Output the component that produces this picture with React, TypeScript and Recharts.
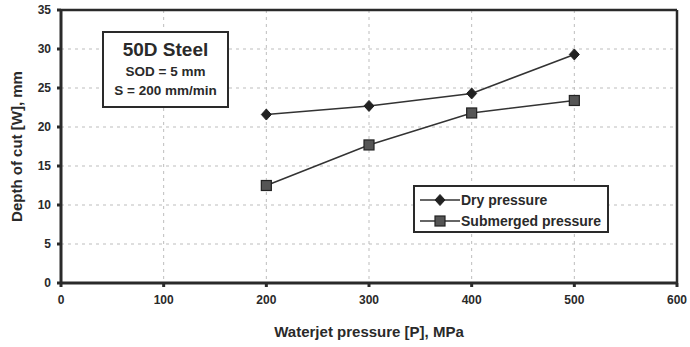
import React from "react";
import {
  LineChart,
  Line,
  XAxis,
  YAxis,
  CartesianGrid,
  ReferenceLine,
} from "recharts";

// values
const pressures = [200, 300, 400, 500];
const dryDepth = [21.6, 22.7, 24.3, 29.3];
const submergedDepth = [12.5, 17.7, 21.8, 23.4];
const xTicks = [0, 100, 200, 300, 400, 500, 600];
const yTicks = [0, 5, 10, 15, 20, 25, 30, 35];

const data = pressures.map((p, i) => ({
  p,
  dry: dryDepth[i],
  sub: submergedDepth[i],
}));

const FONT = "'Liberation Sans', Arial, sans-serif";
const INK = "#2a2a2a";

const Diamond = (props: any) => {
  const { cx, cy } = props;
  if (cx == null || cy == null) return null;
  return (
    <path
      d={`M${cx},${cy - 5.5} L${cx + 5},${cy} L${cx},${cy + 5.5} L${cx - 5},${cy} Z`}
      fill="#222"
      stroke="#222"
    />
  );
};

const Square = (props: any) => {
  const { cx, cy } = props;
  if (cx == null || cy == null) return null;
  return (
    <rect x={cx - 5} y={cy - 5} width={10} height={10} fill="#555" stroke="#222" strokeWidth={1.2} />
  );
};

function LegendBox() {
  const row = (label: string, marker: React.ReactNode) => (
    <div style={{ display: "flex", alignItems: "center", height: 21 }}>
      <svg width={42} height={14}>
        <line x1={2} y1={7} x2={42} y2={7} stroke="#333" strokeWidth={1.5} />
        {marker}
      </svg>
      <span style={{ marginLeft: 1 }}>{label}</span>
    </div>
  );
  return (
    <div
      style={{
        position: "absolute",
        left: 413,
        top: 185,
        border: `2px solid ${INK}`,
        background: "#fff",
        width: 196,
        height: 48,
        padding: "2px 0 2px 3px",
        fontFamily: FONT,
        fontWeight: 700,
        fontSize: 14,
        color: INK,
        boxSizing: "border-box",
        whiteSpace: "nowrap",
      }}
    >
      {row("Dry pressure", <Diamond cx={22} cy={7} />)}
      {row("Submerged pressure", <Square cx={22} cy={7} />)}
    </div>
  );
}

export default function App() {
  return (
    <div style={{ position: "absolute", left: 0, top: 0, width: 690, height: 347, background: "#fff" }}>
      <LineChart
        width={690}
        height={347}
        data={data}
        margin={{ top: 10, right: 13, bottom: 0, left: 0 }}
      >
        <CartesianGrid stroke="#bdbdbd" strokeDasharray="3 4" />
        <XAxis
          dataKey="p"
          type="number"
          domain={[0, 600]}
          ticks={xTicks}
          height={64}
          stroke={INK}
          strokeWidth={3}
          tickSize={4}
          tickMargin={8}
          tick={{ fill: INK, fontFamily: FONT, fontWeight: 700, fontSize: 12 }}
          label={{
            value: "Waterjet pressure [P], MPa",
            position: "insideBottom",
            offset: 10,
            style: { fill: INK, fontFamily: FONT, fontWeight: 700, fontSize: 15 },
          }}
        />
        <YAxis
          type="number"
          domain={[0, 35]}
          ticks={yTicks}
          width={61}
          stroke={INK}
          strokeWidth={3}
          tickSize={4}
          tickMargin={6}
          tick={{ fill: INK, fontFamily: FONT, fontWeight: 700, fontSize: 12 }}
          label={{
            value: "Depth of cut [W], mm",
            angle: -90,
            position: "insideLeft",
            offset: 17,
            style: { fill: INK, fontFamily: FONT, fontWeight: 700, fontSize: 15, textAnchor: "middle" },
          }}
        />
        <ReferenceLine y={35} stroke={INK} strokeWidth={2.5} />
        <ReferenceLine x={600} stroke={INK} strokeWidth={2.5} />
        <Line
          dataKey="dry"
          name="Dry pressure"
          stroke="#333"
          strokeWidth={1.5}
          dot={<Diamond />}
          activeDot={false}
          isAnimationActive={false}
        />
        <Line
          dataKey="sub"
          name="Submerged pressure"
          stroke="#333"
          strokeWidth={1.5}
          dot={<Square />}
          activeDot={false}
          isAnimationActive={false}
        />
      </LineChart>
      <LegendBox />
      <div
        style={{
          position: "absolute",
          left: 102,
          top: 31,
          width: 127,
          height: 77,
          border: `2px solid ${INK}`,
          background: "#fff",
          boxSizing: "border-box",
          fontFamily: FONT,
          fontWeight: 700,
          color: INK,
          textAlign: "center",
          paddingTop: 5,
          whiteSpace: "nowrap",
        }}
      >
        <div style={{ fontSize: 19, lineHeight: "24px" }}>50D Steel</div>
        <div style={{ fontSize: 13.5, lineHeight: "19px" }}>SOD = 5 mm</div>
        <div style={{ fontSize: 13.5, lineHeight: "19px" }}>S = 200 mm/min</div>
      </div>
    </div>
  );
}
